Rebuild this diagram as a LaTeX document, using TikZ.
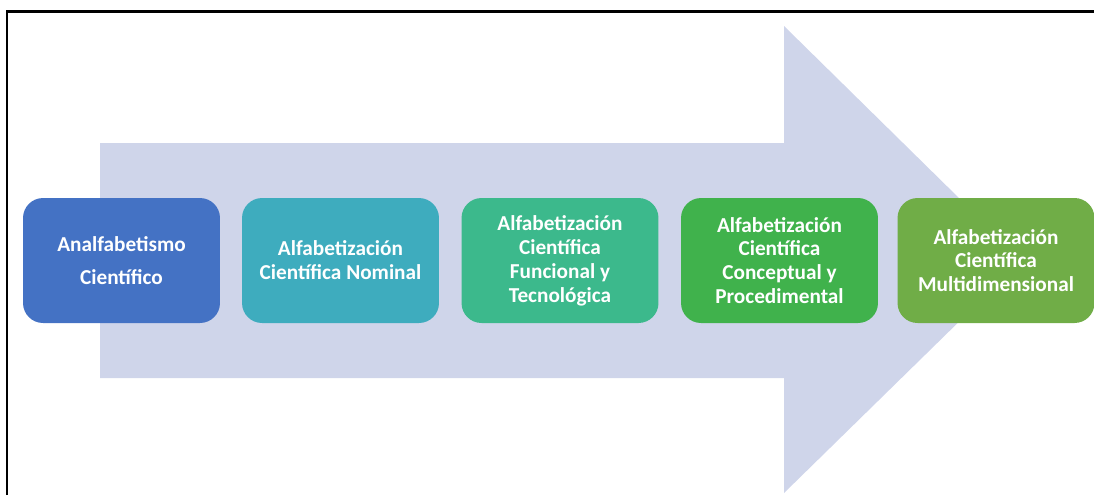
\documentclass[tikz,border=0pt]{standalone}
\usepackage{fontspec}
\setmainfont{Carlito}
\definecolor{flecha}{RGB}{207,213,234}
\definecolor{azul}{RGB}{68,114,196}
\definecolor{turquesa}{RGB}{62,172,190}
\definecolor{verdeagua}{RGB}{60,185,140}
\definecolor{verde}{RGB}{64,178,76}
\definecolor{oliva}{RGB}{112,173,71}

\begin{document}
\begin{tikzpicture}[x=0.02cm, y=-0.02cm,
    etapa/.style={rectangle, rounded corners=0.4cm, minimum width=3.94cm,
      minimum height=2.5cm, text=white, align=center,
      font=\bfseries\fontsize{12.1}{13.6}\selectfont}]
  \useasboundingbox (0,0) rectangle (1094,495);
  % Background arrow
  \fill[flecha] (100,143) -- (784,143) -- (784,26) -- (1022,260)
    -- (784,493) -- (784,378) -- (100,378) -- cycle;
  % Frame
  \draw[line width=0.06cm] (7,495) -- (7,11) -- (1094,11);
  \node[etapa, fill=azul] (anal) at (121.5,260.5) {Analfabetismo\\[5pt]Científico};
  \node[etapa, fill=turquesa] (nominal) at (340.5,260.5) {Alfabetización\\Científica Nominal};
  \node[etapa, fill=verdeagua] (funcional) at (560,260.5) {Alfabetización\\Científica\\Funcional y\\Tecnológica};
  \node[etapa, fill=verde] (conceptual) at (779.5,260.5) {Alfabetización\\Científica\\Conceptual y\\Procedimental};
  \node[etapa, fill=oliva] (multi) at (996,260.5) {Alfabetización\\Científica\\Multidimensional};
\end{tikzpicture}
\end{document}
